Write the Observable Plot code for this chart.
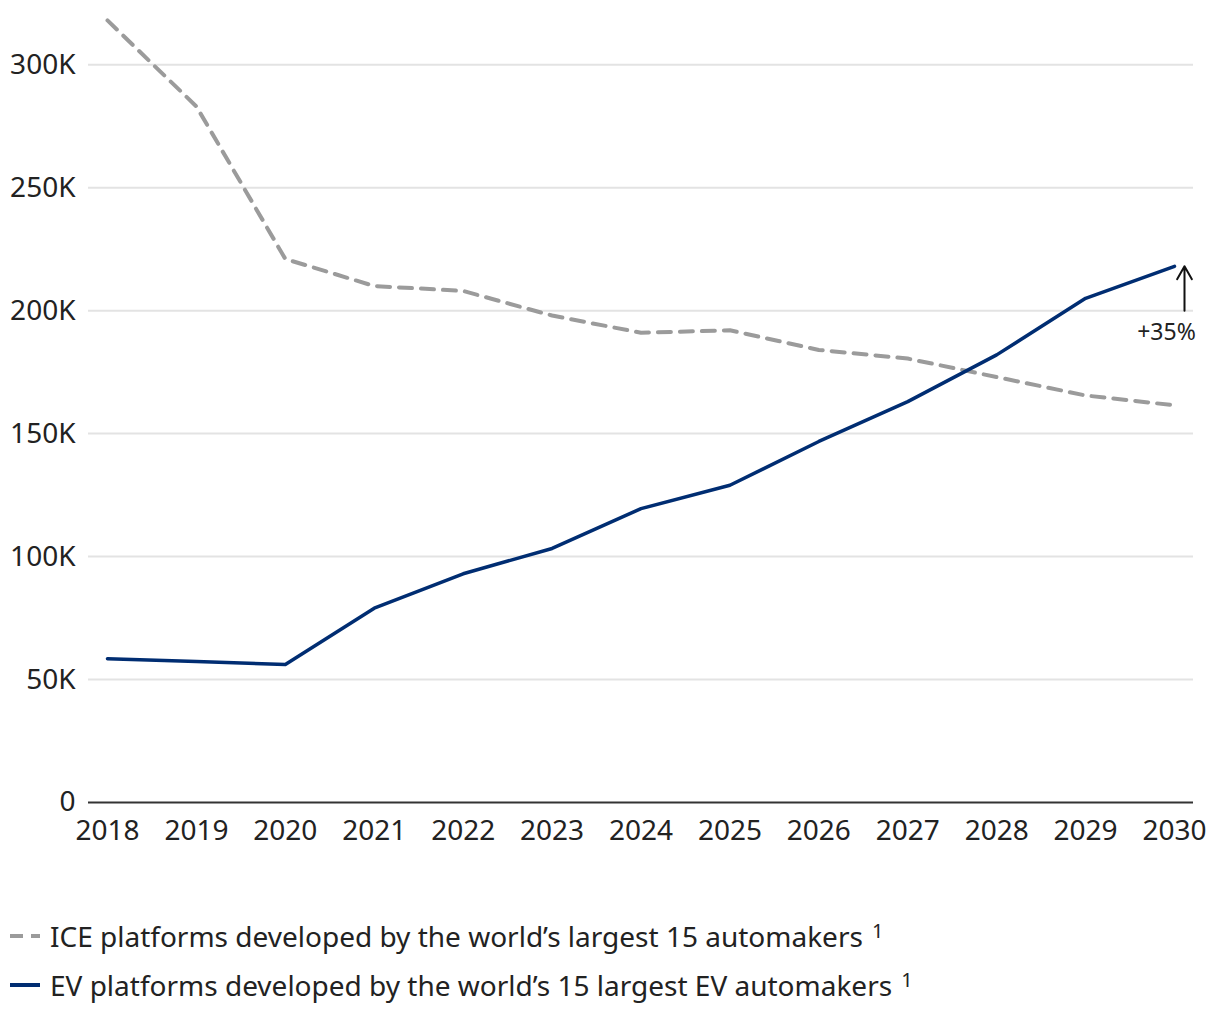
<!DOCTYPE html>
<html>
<head>
<meta charset="utf-8">
<script src="https://cdn.jsdelivr.net/npm/d3@7"></script>
<script src="https://cdn.jsdelivr.net/npm/@observablehq/plot@0.6"></script>
<style>
  body { margin: 0; background: #fff; font-family: "Noto Sans", sans-serif; color: #222; }
  #legend { position: relative; height: 160px; }
  .row { position: absolute; left: 10px; display: flex; align-items: center; font-size: 28px; white-space: nowrap; }
  .row sup { font-size: 20px; margin-left: 9px; position: relative; top: -6px; }
  .sw { width: 30px; height: 4px; margin-right: 10px; }
</style>
</head>
<body>
<div id="chart"></div>
<div id="legend">
  <div class="row" style="top:57px;"><svg class="sw" width="30" height="4" viewBox="0 0 30 4"><line x1="0" y1="2" x2="30" y2="2" stroke="#9b9b9b" stroke-width="4" stroke-dasharray="13,8"/></svg><span>ICE platforms developed by the world’s largest 15 automakers</span><sup>1</sup></div>
  <div class="row" style="top:106px;"><svg class="sw" width="30" height="4" viewBox="0 0 30 4"><line x1="0" y1="2" x2="30" y2="2" stroke="#002d72" stroke-width="4"/></svg><span>EV platforms developed by the world’s 15 largest EV automakers</span><sup>1</sup></div>
</div>
<script>
const years = [2018, 2019, 2020, 2021, 2022, 2023, 2024, 2025, 2026, 2027, 2028, 2029, 2030];
const iceValues = [318000, 283000, 221000, 210000, 208000, 198000, 191000, 192000, 184000, 180500, 173000, 165500, 161500];
const evValues = [58500, 57300, 56100, 79000, 93000, 103300, 119500, 129000, 146800, 163000, 182000, 205000, 218000];
const yTicks = [0, 50000, 100000, 150000, 200000, 250000, 300000];
const annotationLabel = "+35%";

const ice = years.map((y, i) => ({year: y, value: iceValues[i]}));
const ev = years.map((y, i) => ({year: y, value: evValues[i]}));

const chart = Plot.plot({
  width: 1220,
  height: 860,
  marginLeft: 88,
  marginRight: 27,
  marginTop: 15,
  marginBottom: 58,
  insetLeft: 19,
  insetRight: 19,
  style: {fontFamily: "Noto Sans, sans-serif", fontSize: "28px", color: "#222", background: "#fff"},
  x: {domain: [2018, 2030], label: null},
  y: {domain: [0, 320000], label: null},
  marks: [
    Plot.gridY(yTicks.filter(d => d > 0), {stroke: "#e3e3e3", strokeOpacity: 1, strokeWidth: 2}),
    Plot.axisX({ticks: years, tickFormat: d => String(d), tickSize: 0, tickPadding: 18, fontSize: 28, label: null}),
    Plot.axisY({ticks: yTicks, tickFormat: d => d === 0 ? "0" : (d / 1000) + "K", tickSize: 0, tickPadding: 13, fontSize: 28, label: null}),
    Plot.ruleY([0], {stroke: "#333", strokeWidth: 2}),
    Plot.line(ice, {x: "year", y: "value", stroke: "#9b9b9b", strokeWidth: 4, strokeDasharray: "13,9"}),
    Plot.line(ev, {x: "year", y: "value", stroke: "#002d72", strokeWidth: 3.5}),
    Plot.arrow([{x: years[years.length-1], y1: 200000, y2: evValues[evValues.length-1]}], {x1: "x", x2: "x", y1: "y1", y2: "y2", dx: 10, stroke: "#111", strokeWidth: 2, headLength: 14, bend: 0, insetEnd: 0}),
    Plot.text([{x: years[years.length-1], y: 200000}], {x: "x", y: "y", text: [annotationLabel], dx: -8, dy: 22, fontSize: 23, fill: "#222", textAnchor: "middle"})
  ]
});
document.getElementById("chart").appendChild(chart);
</script>
</body>
</html>
